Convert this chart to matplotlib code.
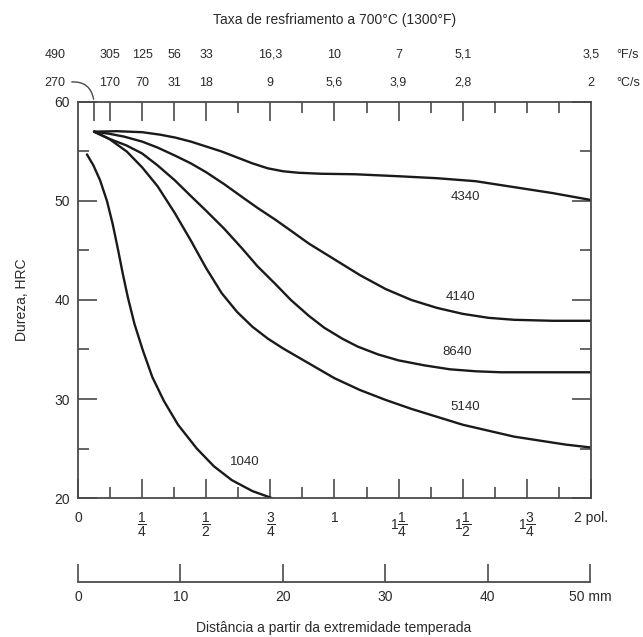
import numpy as np
import matplotlib.pyplot as plt

plt.rcParams["font.family"] = ["Liberation Sans", "DejaVu Sans"]
plt.rcParams["mathtext.fontset"] = "custom"
plt.rcParams["mathtext.rm"] = "Liberation Sans"

# Jominy curves: distance from quenched end (in) vs hardness (HRC)
x_4340 = [0.0625, 0.15, 0.25, 0.32, 0.38, 0.44, 0.5, 0.56, 0.62, 0.68, 0.74, 0.8,
          0.86, 0.95, 1.08, 1.25, 1.4, 1.55, 1.7, 1.85, 2.0]
y_4340 = [57, 57.05, 56.95, 56.7, 56.4, 56.0, 55.5, 55.0, 54.4, 53.8, 53.3, 53.0,
          52.85, 52.75, 52.7, 52.5, 52.3, 52.0, 51.4, 50.8, 50.1]

x_4140 = [0.0625, 0.12, 0.18, 0.25, 0.31, 0.377, 0.44, 0.5, 0.57, 0.64, 0.7, 0.77,
          0.83, 0.9, 1.0, 1.1, 1.2, 1.3, 1.4, 1.5, 1.6, 1.7, 1.85, 2.0]
y_4140 = [57, 56.8, 56.5, 56.0, 55.4, 54.6, 53.8, 52.9, 51.7, 50.4, 49.3, 48.1,
          47.0, 45.7, 44.1, 42.5, 41.1, 40.0, 39.2, 38.6, 38.2, 38.0, 37.9, 37.9]

x_8640 = [0.0625, 0.12, 0.19, 0.25, 0.31, 0.377, 0.44, 0.5, 0.57, 0.64, 0.7, 0.77,
          0.83, 0.9, 0.96, 1.03, 1.09, 1.17, 1.25, 1.35, 1.45, 1.55, 1.65, 1.8, 2.0]
y_8640 = [57, 56.3, 55.6, 54.8, 53.6, 52.1, 50.5, 49.0, 47.2, 45.2, 43.4, 41.6,
          40.0, 38.4, 37.2, 36.1, 35.3, 34.5, 33.9, 33.4, 33.0, 32.8, 32.7, 32.7, 32.7]

x_5140 = [0.0625, 0.12, 0.19, 0.25, 0.31, 0.377, 0.44, 0.5, 0.56, 0.62, 0.68, 0.74,
          0.8, 0.9, 1.0, 1.1, 1.2, 1.3, 1.4, 1.5, 1.6, 1.7, 1.8, 1.9, 2.0]
y_5140 = [57, 56.3, 55.0, 53.4, 51.5, 48.8, 46.0, 43.2, 40.7, 38.8, 37.3, 36.1,
          35.1, 33.6, 32.1, 30.9, 29.9, 29.0, 28.2, 27.4, 26.8, 26.2, 25.8, 25.4, 25.1]

x_1040 = [0.035, 0.06, 0.086, 0.113, 0.135, 0.156, 0.175, 0.195, 0.22, 0.253, 0.29,
          0.335, 0.39, 0.463, 0.53, 0.6, 0.68, 0.755]
y_1040 = [54.7, 53.6, 52.1, 50.0, 47.7, 45.1, 42.6, 40.2, 37.6, 34.9, 32.2,
          29.8, 27.4, 25.0, 23.2, 21.8, 20.7, 20.0]

curves = {
    "4340": (x_4340, y_4340, (1.51, 50.4)),
    "4140": (x_4140, y_4140, (1.49, 40.3)),
    "8640": (x_8640, y_8640, (1.48, 34.7)),
    "5140": (x_5140, y_5140, (1.51, 29.2)),
    "1040": (x_1040, y_1040, (0.65, 23.6)),
}

# axis ticks
inch_ticks = [0, 0.25, 0.5, 0.75, 1, 1.25, 1.5, 1.75, 2]
inch_labels = ["0", r"$\dfrac{1}{4}$", r"$\dfrac{1}{2}$", r"$\dfrac{3}{4}$", "1",
               r"1$\dfrac{1}{4}$", r"1$\dfrac{1}{2}$", r"1$\dfrac{3}{4}$", "2 pol."]
mm_ticks = [0, 10, 20, 30, 40, 50]
mm_labels = ["0", "10", "20", "30", "40", "50 mm"]

# cooling rate scale at 700 C
rate_pos = [0.0625, 0.125, 0.25, 0.375, 0.5, 0.75, 1.0, 1.25, 1.5, 2.0]
rate_F = ["490", "305", "125", "56", "33", "16,3", "10", "7", "5,1", "3,5"]
rate_C = ["270", "170", "70", "31", "18", "9", "5,6", "3,9", "2,8", "2"]

ink = "#1a1a1a"
txt = "#2a2a2a"
frame = "#4a4a4a"

fig = plt.figure(figsize=(6.43, 6.37), dpi=100)
ax = fig.add_axes([0.1213, 0.2182, 0.7978, 0.6217])

for name, (xs, ys, lab) in curves.items():
    ax.plot(xs, ys, color=ink, lw=1.7, solid_capstyle="round", solid_joinstyle="round")
    ax.text(lab[0], lab[1], name, ha="center", va="center", fontsize=9.5, color=txt)

ax.set_xlim(0, 2)
ax.set_ylim(20, 60)
for s in ax.spines.values():
    s.set_color(frame)
    s.set_linewidth(1.3)

ax.set_xticks(inch_ticks)
ax.set_xticklabels(inch_labels, fontsize=10, color=txt)
ax.set_xticks(np.arange(0.125, 2, 0.25), minor=True)
ax.set_yticks([20, 30, 40, 50, 60])
ax.set_yticklabels(["20", "30", "40", "50", "60"], fontsize=10, color=txt)
ax.set_yticks([25, 35, 45, 55], minor=True)
ax.tick_params(which="major", direction="in", length=14, width=1.2, color=frame,
               left=True, right=True, bottom=True, top=False, pad=6)
ax.tick_params(which="minor", direction="in", length=8, width=1.2, color=frame,
               left=True, right=True, bottom=True, top=False)
ax.tick_params(axis="x", pad=9)
ax.set_ylabel("Dureza, HRC", fontsize=10, color=txt, labelpad=18)

# top ticks for cooling rates
top = ax.twiny()
top.set_xlim(0, 2)
long_top = [0.0625, 0.125, 0.25, 0.375, 0.5, 0.75, 1.0, 1.25, 1.5]
short_top = [0.625, 0.875, 1.125, 1.375, 1.625, 1.75, 1.875]
top.set_xticks(long_top)
top.set_xticks(short_top, minor=True)
top.set_xticklabels([])
top.tick_params(which="major", direction="in", length=14, width=1.2, color=frame)
top.tick_params(which="minor", direction="in", length=8, width=1.2, color=frame)
for s in top.spines.values():
    s.set_visible(False)

tr = ax.get_xaxis_transform()
for i, (p, f, c) in enumerate(zip(rate_pos, rate_F, rate_C)):
    if i == 0:
        p = -0.09
    ax.text(p, 1.119, f, transform=tr, ha="center", va="center", fontsize=9, color=txt)
    ax.text(p, 1.048, c, transform=tr, ha="center", va="center", fontsize=9, color=txt)
ax.text(2.1, 1.119, "°F/s", transform=tr, ha="left", va="center", fontsize=9, color=txt)
ax.text(2.1, 1.048, "°C/s", transform=tr, ha="left", va="center", fontsize=9, color=txt)
ax.text(1.0, 1.207, "Taxa de resfriamento a 700°C (1300°F)", transform=tr,
        ha="center", va="center", fontsize=10, color=txt)
ax.annotate("", xy=(0.0625, 1.0), xytext=(-0.035, 1.05), xycoords=tr, textcoords=tr,
            arrowprops=dict(arrowstyle="-", color=frame, lw=1.0,
                            connectionstyle="arc3,rad=-0.5"), annotation_clip=False)

# millimetre scale
mm = fig.add_axes([0.1213, 0.0863, 0.7963, 0.05])
mm.set_xlim(0, 50)
mm.set_ylim(0, 1)
for k in ["top", "left", "right"]:
    mm.spines[k].set_visible(False)
mm.spines["bottom"].set_color(frame)
mm.spines["bottom"].set_linewidth(1.3)
mm.set_yticks([])
mm.set_xticks(mm_ticks)
mm.set_xticklabels(mm_labels, fontsize=10, color=txt)
mm.tick_params(direction="in", length=13, width=1.2, color=frame, pad=6)
mm.set_xlabel("Distância a partir da extremidade temperada", fontsize=10,
              color=txt, labelpad=12)
mm.patch.set_alpha(0)

fig.savefig("out.png", dpi=100)
